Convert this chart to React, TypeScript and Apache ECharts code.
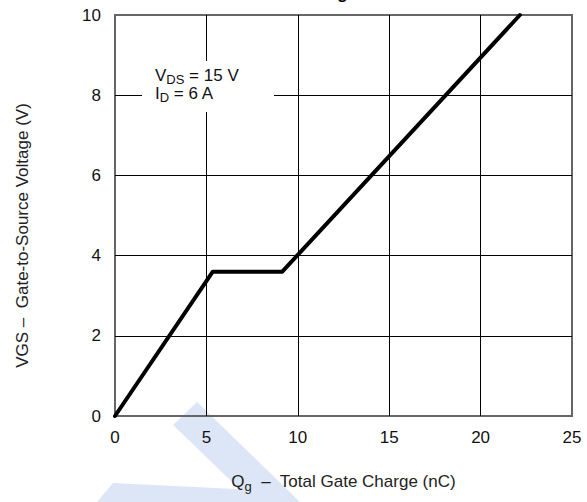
import React, { useEffect, useRef } from "react";
import * as echarts from "echarts";

const qg = [0, 5.35, 9.15, 22.15];
const vgs = [0, 3.6, 3.6, 10];
const xMin = 0;
const xMax = 25;
const xStep = 5;
const yMin = 0;
const yMax = 10;
const yStep = 2;
const xName = "Total Gate Charge (nC)";
const yName = "VGS –  Gate-to-Source Voltage (V)";
const titleText = "Gate Charge";
const annotVds = "15 V";
const annotId = "6 A";

const FONT = "'Liberation Sans', Arial, sans-serif";

export default function App() {
  const ref = useRef<HTMLDivElement>(null);
  useEffect(() => {
    if (!ref.current) return;
    const chart = echarts.init(ref.current, undefined, { renderer: "svg" });
    const data = qg.map((x, i) => [x, vgs[i]]);
    chart.setOption({
      animation: false,
      backgroundColor: "#fff",
      grid: {
        left: 115,
        right: 15,
        top: 15,
        bottom: 86,
        show: true,
        borderColor: "#666",
        borderWidth: 2,
        backgroundColor: "transparent",
      },
      xAxis: {
        type: "value",
        min: xMin,
        max: xMax,
        interval: xStep,
        axisLine: { show: false },
        axisTick: { show: false },
        splitLine: { show: true, showMinLine: false, showMaxLine: false, lineStyle: { color: "#000", width: 1 } },
        axisLabel: { fontSize: 17, color: "#111", fontFamily: FONT, margin: 13 },
        name: "{n|Q}{s|g}{n|  –  " + xName + "}",
        nameLocation: "middle",
        nameGap: 55,
        nameTextStyle: {
          rich: {
            n: { fontSize: 17, fontFamily: FONT, color: "#222", lineHeight: 20, verticalAlign: "middle" },
            s: { fontSize: 13, fontFamily: FONT, color: "#222", lineHeight: 20, padding: [10, 0, 0, 0] },
          },
        },
      },
      yAxis: {
        type: "value",
        min: yMin,
        max: yMax,
        interval: yStep,
        axisLine: { show: false },
        axisTick: { show: false },
        splitLine: { show: true, showMinLine: false, showMaxLine: false, lineStyle: { color: "#000", width: 1 } },
        axisLabel: { fontSize: 17, color: "#111", fontFamily: FONT, margin: 14 },
        name: yName,
        nameLocation: "middle",
        nameGap: 84,
        nameTextStyle: { fontSize: 17, fontFamily: FONT, color: "#222", padding: [0, 40, 0, 0] },
      },
      graphic: [
        {
          type: "polygon",
          z: -10,
          silent: true,
          shape: { points: [[173, 425], [197, 402], [300, 502], [253, 502]] },
          style: { fill: "#dde6f6" },
        },
        {
          type: "polygon",
          z: -10,
          silent: true,
          shape: { points: [[113, 483], [255, 490], [265, 502], [97, 502]] },
          style: { fill: "#dde6f6" },
        },
        {
          type: "text",
          x: 357,
          y: 2,
          silent: true,
          style: {
            text: titleText,
            fontSize: 17,
            fontWeight: "bold",
            fontFamily: FONT,
            fill: "#000",
            align: "right",
            verticalAlign: "bottom",
          },
        },
        {
          type: "rect",
          z: 10,
          shape: { x: 142, y: 61, width: 132, height: 51 },
          style: { fill: "#fff" },
        },
        {
          type: "text",
          z: 11,
          x: 155,
          y: 66,
          style: {
            text: "{n|V}{s|DS}{n| = " + annotVds + "}\n{n|I}{s|D}{n| = " + annotId + "}",
            rich: {
              n: { fontSize: 17, fontFamily: FONT, fill: "#111", lineHeight: 18, verticalAlign: "middle" },
              s: { fontSize: 13, fontFamily: FONT, fill: "#111", lineHeight: 18, padding: [9, 0, 0, 0] },
            },
          },
        },
      ],
      series: [
        {
          type: "line",
          data,
          showSymbol: false,
          clip: false,
          z: 5,
          lineStyle: { color: "#000", width: 4, cap: "round", join: "round" },
        },
      ],
    });
    return () => chart.dispose();
  }, []);
  return <div ref={ref} style={{ position: "fixed", left: 0, top: 0, width: 587, height: 502 }} />;
}
